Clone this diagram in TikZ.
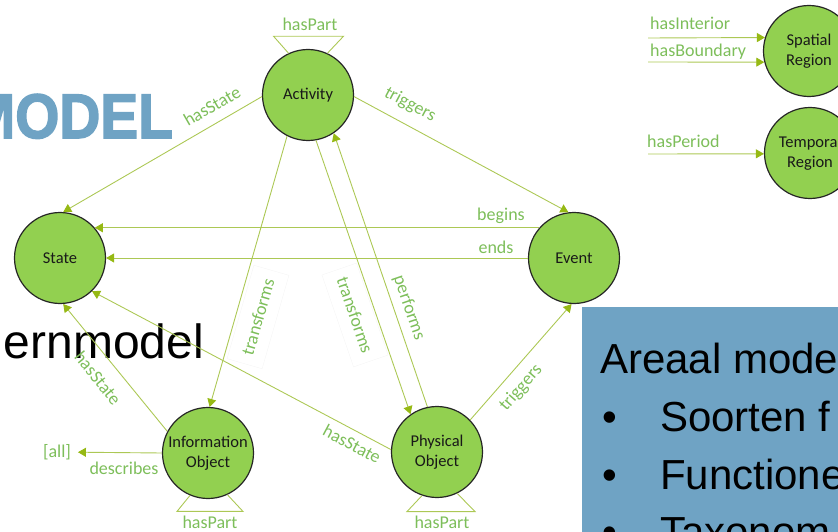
\documentclass[tikz,border=0pt]{standalone}
\usepackage{fontspec}
\setmainfont{Carlito}
\newfontfamily\slidefont{Liberation Sans}
\newfontfamily\headfont{Liberation Sans Bold}[FakeBold=2.5]
\usetikzlibrary{arrows.meta}
\definecolor{nodefill}{RGB}{146,208,80}
\definecolor{edgec}{RGB}{172,200,85}
\definecolor{arrowc}{RGB}{150,185,20}
\definecolor{labelc}{RGB}{125,190,90}
\definecolor{slideblue}{RGB}{111,163,196}
\begin{document}
\begin{tikzpicture}[x=1pt,y=-1pt,
  concept/.style={circle, draw=black!85, line width=1.2pt, fill=nodefill,
    minimum size=91pt, inner sep=0pt, align=center, text=black!90,
    font=\fontsize{16.5}{20}\selectfont},
  rel/.style={draw=edgec, line width=0.9pt},
  relarrow/.style={rel, -{Triangle[length=8pt,width=9pt,color=arrowc,fill=arrowc]}},
  lbl/.style={text=labelc, font=\fontsize{18}{20}\selectfont, inner sep=1pt},
  framedlbl/.style={lbl, draw=black!4, inner xsep=9pt, inner ysep=12pt},
  slidetext/.style={inner sep=0pt, font=\slidefont\fontsize{42}{46}\selectfont},
]
\clip (0,0) rectangle (838,532);

% slide text behind the diagram
\node[anchor=base east, inner sep=0pt, text=slideblue]
  (title) at (173,138) {\scalebox{0.9}[1]{\headfont\fontsize{63}{66}\selectfont MODEL}};
\node[anchor=base east, inner sep=0pt, font=\slidefont\fontsize{48}{52}\selectfont]
  (kern) at (204,358) {ernmodel};

% side panel
\fill[slideblue] (582,307) rectangle (838,532);
\node[slidetext, anchor=base west] (areaal) at (600,373) {Areaal mode};
\node[slidetext, anchor=base west] (b1) at (602,431) {•};
\node[slidetext, anchor=base west] (t1) at (660,431) {Soorten f};
\node[slidetext, anchor=base west] (b2) at (602,489) {•};
\node[slidetext, anchor=base west] (t2) at (660,489) {Functione};
\node[slidetext, anchor=base west] (b3) at (602,546) {•};
\node[slidetext, anchor=base west] (t3) at (660,546) {Taxonom};

% concepts
\node[concept] (act) at (308,95) {Activity};
\node[concept] (st) at (60,258) {State};
\node[concept] (ev) at (574,258) {Event};
\node[concept] (info) at (208,453) {Information\\Object};
\node[concept] (phys) at (437,452) {Physical\\Object};
\node[concept] (sp) at (809,51) {Spatial\\Region};
\node[concept] (tp) at (810,153) {Temporal\\Region};
\node[lbl, inner sep=0pt, outer sep=7pt] (all) at (57,452) {[all]};

% relations
\draw[relarrow] (act.182) -- (st.86);
\draw[relarrow] (act.358) -- (ev.97);
\draw[relarrow] (ev.139) -- (st.41);
\draw[relarrow] (ev.west) -- (st.east);
\draw[relarrow] (act.243) -- (info.88);
\draw[relarrow] (act.280) -- (phys.125);
\draw[relarrow] (phys.102) -- (act.304);
\draw[relarrow] (phys.44) -- (ev.267);
\draw[relarrow] (phys.177) -- (st.314);
\draw[relarrow] (info.152) -- (st.274);
\draw[relarrow] (info.west) -- (all);

% part-of loops
\draw[rel] (act.115) -- ++(-15,-17) -- ++(70,0) -- (act.65);
\draw[rel] (info.247) -- ++(-13,16) -- ++(66,0) -- (info.295);
\draw[rel] (phys.251) -- ++(-15,16) -- ++(68,0) -- (phys.296);

% region inputs
\coordinate (inA) at (648,38);
\coordinate (inB) at (648,62);
\coordinate (inC) at (648,154);
\draw[relarrow] (inA) -- (sp.163);
\draw[relarrow] (inB) -- (sp.194);
\draw[relarrow] (inC) -- (tp.181);

% relation labels
\node[lbl, rotate=30] (l1) at (212,106) {hasState};
\node[lbl, rotate=-28] (l2) at (410,105) {triggers};
\node[lbl] (l3) at (501,216) {begins};
\node[lbl] (l4) at (496,247) {ends};
\node[framedlbl, rotate=74] (l5) at (258,317) {transforms};
\node[framedlbl, rotate=-71] (l6) at (355,315) {transforms};
\node[lbl, rotate=-71] (l7) at (409,308) {performs};
\node[lbl, rotate=49] (l8) at (521,388) {triggers};
\node[lbl, rotate=-28] (l9) at (352,444) {hasState};
\node[lbl, rotate=-51] (l10) at (98,378) {hasState};
\node[lbl] (l11) at (124,468) {describes};
\node[lbl] (l12) at (310,24) {hasPart};
\node[lbl] (l13) at (210,522) {hasPart};
\node[lbl] (l14) at (442,522) {hasPart};
\node[lbl, anchor=west] (l15) at (649,23) {hasInterior};
\node[lbl, anchor=west] (l16) at (649,52) {hasBoundary};
\node[lbl, anchor=west] (l17) at (646,141) {hasPeriod};
\end{tikzpicture}
\end{document}
